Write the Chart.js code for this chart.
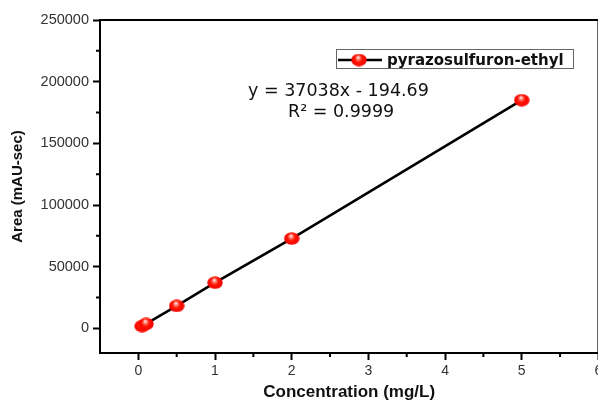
<!DOCTYPE html>
<html>
<head>
<meta charset="utf-8">
<script src="https://cdn.jsdelivr.net/npm/chart.js@4"></script>
<style>
  html, body { margin: 0; padding: 0; background: #fff; overflow: hidden; }
  canvas { display: block; }
</style>
</head>
<body>
<canvas id="calib" width="609" height="403"></canvas>
<script>
/* Calibration curve — pyrazosulfuron-ethyl */
const seriesLabel = 'pyrazosulfuron-ethyl';
const concentration = [0.05, 0.1, 0.5, 1, 2, 5];
const area = [1800, 3600, 18200, 37000, 72800, 185000];
const xTicks = [0, 1, 2, 3, 4, 5, 6];
const xMinor = [0.5, 1.5, 2.5, 3.5, 4.5, 5.5];
const yTicks = [0, 50000, 100000, 150000, 200000, 250000];
const yMinor = [25000, 75000, 125000, 175000, 225000];
const equationLines = ['y = 37038x - 194.69', 'R\u00b2 = 0.9999'];

Chart.defaults.font.family = '"Liberation Sans", Arial, sans-serif';

// glossy red ball marker
function makeBall(w, h) {
  const c = document.createElement('canvas');
  c.width = w; c.height = h;
  const g = c.getContext('2d');
  const grd = g.createRadialGradient(w * 0.45, h * 0.3, 0.3, w * 0.5, h * 0.5, w * 0.58);
  grd.addColorStop(0, '#ffffff');
  grd.addColorStop(0.14, '#ff8a80');
  grd.addColorStop(0.4, '#ff1400');
  grd.addColorStop(0.85, '#f00000');
  grd.addColorStop(1, '#d00000');
  g.fillStyle = grd;
  g.beginPath();
  g.ellipse(w / 2, h / 2, w / 2 - 0.3, h / 2 - 0.3, 0, 0, Math.PI * 2);
  g.fill();
  return c;
}
const ball = makeBall(16, 13);

// ── frame, minor ticks, equation and legend box ──────────────────
const extras = {
  id: 'extras',
  afterDraw(chart) {
    const { ctx, chartArea: a, scales: { x, y } } = chart;
    ctx.save();
    ctx.strokeStyle = '#000';
    ctx.lineWidth = 2;
    ctx.strokeRect(a.left, a.top, a.right - a.left, a.bottom - a.top);

    ctx.beginPath();
    xMinor.forEach(v => {
      const px = x.getPixelForValue(v);
      ctx.moveTo(px, a.bottom); ctx.lineTo(px, a.bottom + 4);
    });
    yMinor.forEach(v => {
      const py = y.getPixelForValue(v);
      ctx.moveTo(a.left, py); ctx.lineTo(a.left - 4, py);
    });
    ctx.stroke();

    // regression equation
    ctx.fillStyle = '#111';
    ctx.font = '17.5px "DejaVu Sans"';
    ctx.textBaseline = 'alphabetic';
    ctx.fillText(equationLines[0], 248, 96);
    ctx.fillText(equationLines[1], 288, 117);

    // legend
    ctx.lineWidth = 1;
    ctx.strokeStyle = '#666';
    ctx.strokeRect(336.5, 49.5, 237, 19);
    ctx.strokeStyle = '#000';
    ctx.lineWidth = 2.5;
    ctx.beginPath();
    ctx.moveTo(338, 60); ctx.lineTo(382, 60);
    ctx.stroke();
    ctx.drawImage(ball, 359 - ball.width / 2, 60 - ball.height / 2);
    ctx.font = 'bold 15px "DejaVu Sans"';
    ctx.fillText(chart.data.datasets[0].label, 387, 65);
    ctx.restore();
  }
};

new Chart(document.getElementById('calib'), {
  type: 'scatter',
  data: {
    datasets: [{
      label: seriesLabel,
      data: concentration.map((c, i) => ({ x: c, y: area[i] })),
      showLine: true,
      borderColor: '#000',
      borderWidth: 2.6,
      pointStyle: ball,
      pointRadius: 8,
      pointHoverRadius: 8,
    }],
  },
  options: {
    responsive: false,
    animation: false,
    layout: { padding: { top: 20, right: 7, left: 0, bottom: 0 } },
    plugins: { legend: { display: false }, tooltip: { enabled: false } },
    scales: {
      x: {
        type: 'linear',
        min: -0.5,
        max: 6,
        afterBuildTicks: s => { s.ticks = xTicks.map(v => ({ value: v })); },
        afterFit: s => { s.height = 50; },
        grid: { drawOnChartArea: false, drawTicks: true, tickLength: 7, tickColor: '#000', tickWidth: 2 },
        border: { display: true, color: '#000', width: 2 },
        ticks: { color: '#333', font: { size: 14 }, padding: 3, maxRotation: 0 },
        title: {
          display: true,
          text: 'Concentration (mg/L)',
          color: '#111',
          font: { size: 17, weight: 'bold' },
          padding: { top: 0, bottom: 0 },
        },
      },
      y: {
        type: 'linear',
        min: -20000,
        max: 250000,
        afterBuildTicks: s => { s.ticks = yTicks.map(v => ({ value: v })); },
        afterFit: s => { s.width = 100; },
        grid: { drawOnChartArea: false, drawTicks: true, tickLength: 7, tickColor: '#000', tickWidth: 2 },
        border: { display: true, color: '#000', width: 2 },
        ticks: { color: '#333', font: { size: 14.5 }, padding: 4, callback: v => String(v) },
        title: {
          display: true,
          text: 'Area (mAU-sec)',
          color: '#111',
          font: { size: 15, weight: 'bold' },
          padding: { top: 9, bottom: 0 },
        },
      },
    },
  },
  plugins: [extras],
});
</script>
</body>
</html>
